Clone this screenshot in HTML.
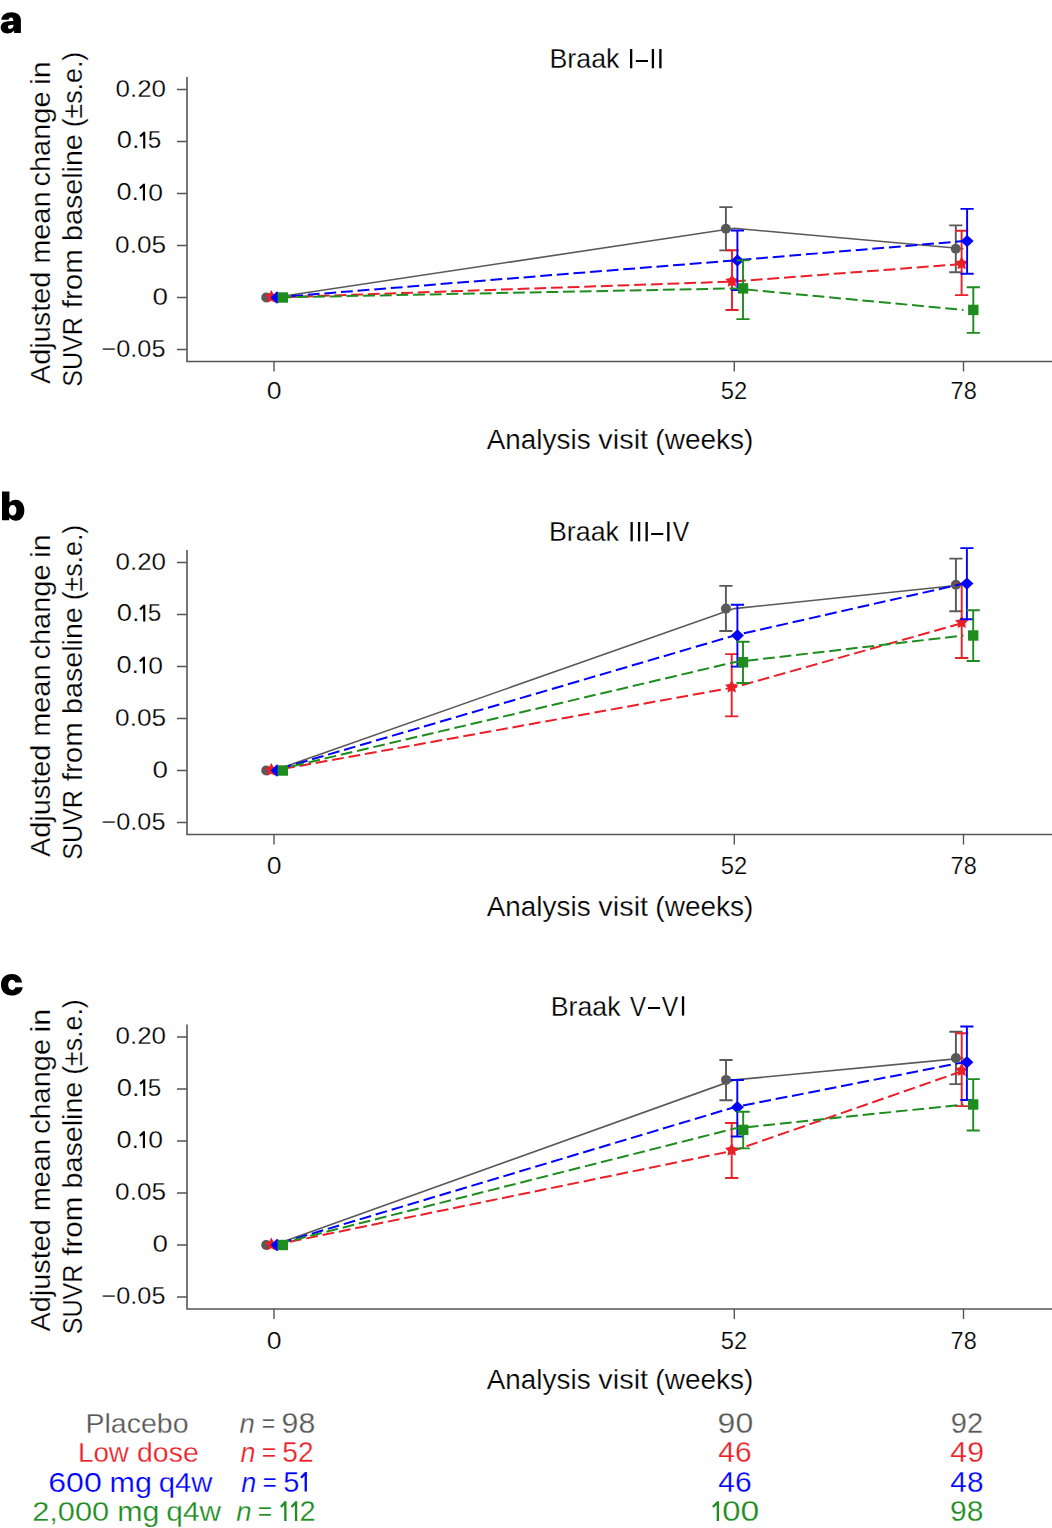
<!DOCTYPE html>
<html><head><meta charset="utf-8"><style>
html,body{margin:0;padding:0;background:#fff;}
svg{display:block;}
text{font-family:"Liberation Sans",sans-serif;}
</style></head><body>
<svg width="1052" height="1528" viewBox="0 0 1052 1528">
<rect width="1052" height="1528" fill="#fff"/>
<path d='M187,77 V361.45 H1052' fill='none' stroke='#555' stroke-width='1.6'/>
<path d='M177,89.5H187M177,141.5H187M177,193.5H187M177,245.5H187M177,297.5H187M177,349.5H187M274,361.45V371.5M734.3,361.45V371.5M963.5,361.45V371.5' fill='none' stroke='#555' stroke-width='1.4'/>
<path d='M187,550 V834.45 H1052' fill='none' stroke='#555' stroke-width='1.6'/>
<path d='M177,562.5H187M177,614.5H187M177,666.5H187M177,718.5H187M177,770.5H187M177,822.5H187M274,834.45V844.5M734.3,834.45V844.5M963.5,834.45V844.5' fill='none' stroke='#555' stroke-width='1.4'/>
<path d='M187,1024.5 V1308.95 H1052' fill='none' stroke='#555' stroke-width='1.6'/>
<path d='M177,1037.0H187M177,1089.0H187M177,1141.0H187M177,1193.0H187M177,1245.0H187M177,1297.0H187M274,1308.95V1319.0M734.3,1308.95V1319.0M963.5,1308.95V1319.0' fill='none' stroke='#555' stroke-width='1.4'/>
<path d='M274.0,297.5 L734.3,228.3 L963.5,248.8' fill='none' stroke='#595959' stroke-width='1.6'/>
<circle cx='266.2' cy='297.5' r='5' fill='#595959'/>
<circle cx='725.9' cy='228.8' r='5' fill='#595959'/>
<circle cx='955.8' cy='248.8' r='5' fill='#595959'/>
<path d='M725.9,207.1V250.4M719.3,207.1H732.5M719.3,250.4H732.5M955.8,225.4V272.3M949.1999999999999,225.4H962.4M949.1999999999999,272.3H962.4' fill='none' stroke='#595959' stroke-width='1.9'/>
<path d='M274.0,297.5 L734.3,281.5 L963.5,263.9' fill='none' stroke='#eb1f28' stroke-width='2' stroke-dasharray='11.84,4.82' stroke-dashoffset='6.10'/>
<path d='M271.30,290.10 L273.48,294.10 L277.96,294.94 L274.83,298.25 L275.41,302.76 L271.30,300.81 L267.19,302.76 L267.77,298.25 L264.64,294.94 L269.12,294.10Z' fill='#eb1f28'/>
<path d='M732.00,274.10 L734.18,278.10 L738.66,278.94 L735.53,282.25 L736.11,286.76 L732.00,284.81 L727.89,286.76 L728.47,282.25 L725.34,278.94 L729.82,278.10Z' fill='#eb1f28'/>
<path d='M961.60,256.50 L963.78,260.50 L968.26,261.34 L965.13,264.65 L965.71,269.16 L961.60,267.21 L957.49,269.16 L958.07,264.65 L954.94,261.34 L959.42,260.50Z' fill='#eb1f28'/>
<path d='M732.0,250.3V310.0M725.4,250.3H738.6M725.4,310.0H738.6M961.6,230.8V295.1M955.0,230.8H968.2M955.0,295.1H968.2' fill='none' stroke='#eb1f28' stroke-width='1.9'/>
<path d='M274.0,297.5 L734.3,260.4 L963.5,241.1' fill='none' stroke='#0000ff' stroke-width='2' stroke-dasharray='11.84,4.82' stroke-dashoffset='16.11'/>
<path d='M277.0,291.3L283.5,297.5L277.0,303.7L270.5,297.5Z' fill='#0000ff'/>
<path d='M737.4,254.2L743.9,260.4L737.4,266.59999999999997L730.9,260.4Z' fill='#0000ff'/>
<path d='M967.1,234.9L973.6,241.1L967.1,247.29999999999998L960.6,241.1Z' fill='#0000ff'/>
<path d='M737.4,230.5V290.0M730.8,230.5H744.0M730.8,290.0H744.0M967.1,208.9V273.8M960.5,208.9H973.7M960.5,273.8H973.7' fill='none' stroke='#0000ff' stroke-width='1.9'/>
<path d='M279.0,297.40 L734.3,288.4 L963.5,309.9' fill='none' stroke='#1e8c1e' stroke-width='2' stroke-dasharray='11.84,4.82' stroke-dashoffset='15.81'/>
<rect x='277.6' y='292.3' width='10.4' height='10.4' fill='#1e8c1e'/>
<rect x='737.8' y='283.2' width='10.4' height='10.4' fill='#1e8c1e'/>
<rect x='968.0999999999999' y='304.7' width='10.4' height='10.4' fill='#1e8c1e'/>
<path d='M743.0,260.4V319.1M736.4,260.4H749.6M736.4,319.1H749.6M973.3,287.3V332.9M966.6999999999999,287.3H979.9M966.6999999999999,332.9H979.9' fill='none' stroke='#1e8c1e' stroke-width='1.9'/>
<path d='M274.0,770.5 L734.3,608.6 L963.5,584.7' fill='none' stroke='#595959' stroke-width='1.6'/>
<circle cx='266.2' cy='770.5' r='5' fill='#595959'/>
<circle cx='725.9' cy='608.6' r='5' fill='#595959'/>
<circle cx='955.9' cy='584.7' r='5' fill='#595959'/>
<path d='M725.9,585.9V631.0M719.3,585.9H732.5M719.3,631.0H732.5M955.9,558.6V611.2M949.3,558.6H962.5M949.3,611.2H962.5' fill='none' stroke='#595959' stroke-width='1.9'/>
<path d='M274.0,770.5 L734.3,687.3 L963.5,622.8' fill='none' stroke='#eb1f28' stroke-width='2' stroke-dasharray='11.84,4.82' stroke-dashoffset='7.57'/>
<path d='M271.30,763.10 L273.48,767.10 L277.96,767.94 L274.83,771.25 L275.41,775.76 L271.30,773.81 L267.19,775.76 L267.77,771.25 L264.64,767.94 L269.12,767.10Z' fill='#eb1f28'/>
<path d='M731.70,679.90 L733.88,683.90 L738.36,684.74 L735.23,688.05 L735.81,692.56 L731.70,690.61 L727.59,692.56 L728.17,688.05 L725.04,684.74 L729.52,683.90Z' fill='#eb1f28'/>
<path d='M961.70,615.40 L963.88,619.40 L968.36,620.24 L965.23,623.55 L965.81,628.06 L961.70,626.11 L957.59,628.06 L958.17,623.55 L955.04,620.24 L959.52,619.40Z' fill='#eb1f28'/>
<path d='M731.7,654.1V716.4M725.1,654.1H738.3000000000001M725.1,716.4H738.3000000000001M961.7,584.1V658.0M955.1,584.1H968.3000000000001M955.1,658.0H968.3000000000001' fill='none' stroke='#eb1f28' stroke-width='1.9'/>
<path d='M274.0,770.5 L734.3,635.5 L963.5,583.6' fill='none' stroke='#0000ff' stroke-width='2' stroke-dasharray='11.84,4.82' stroke-dashoffset='10.30'/>
<path d='M277.0,764.3L283.5,770.5L277.0,776.7L270.5,770.5Z' fill='#0000ff'/>
<path d='M737.4,629.3L743.9,635.5L737.4,641.7L730.9,635.5Z' fill='#0000ff'/>
<path d='M966.9,577.4L973.4,583.6L966.9,589.8000000000001L960.4,583.6Z' fill='#0000ff'/>
<path d='M737.4,604.8V666.6M730.8,604.8H744.0M730.8,666.6H744.0M966.9,548.1V619.3M960.3,548.1H973.5M960.3,619.3H973.5' fill='none' stroke='#0000ff' stroke-width='1.9'/>
<path d='M279.0,769.32 L734.3,662.2 L963.5,635.5' fill='none' stroke='#1e8c1e' stroke-width='2' stroke-dasharray='11.84,4.82' stroke-dashoffset='3.12'/>
<rect x='277.6' y='765.3' width='10.4' height='10.4' fill='#1e8c1e'/>
<rect x='737.8' y='657.0' width='10.4' height='10.4' fill='#1e8c1e'/>
<rect x='968.0' y='630.3' width='10.4' height='10.4' fill='#1e8c1e'/>
<path d='M743.0,641.8V683.0M736.4,641.8H749.6M736.4,683.0H749.6M973.2,610.2V661.0M966.6,610.2H979.8000000000001M966.6,661.0H979.8000000000001' fill='none' stroke='#1e8c1e' stroke-width='1.9'/>
<path d='M274.0,1245.0 L734.3,1079.9 L963.5,1058.1' fill='none' stroke='#595959' stroke-width='1.6'/>
<circle cx='266.2' cy='1245.0' r='5' fill='#595959'/>
<circle cx='726.0' cy='1079.9' r='5' fill='#595959'/>
<circle cx='955.9' cy='1058.1' r='5' fill='#595959'/>
<path d='M726.0,1060.0V1100.2M719.4,1060.0H732.6M719.4,1100.2H732.6M955.9,1031.8V1084.1M949.3,1031.8H962.5M949.3,1084.1H962.5' fill='none' stroke='#595959' stroke-width='1.9'/>
<path d='M274.0,1245.0 L734.3,1150.5 L963.5,1070.7' fill='none' stroke='#eb1f28' stroke-width='2' stroke-dasharray='11.84,4.82' stroke-dashoffset='0.36'/>
<path d='M271.30,1237.60 L273.48,1241.60 L277.96,1242.44 L274.83,1245.75 L275.41,1250.26 L271.30,1248.31 L267.19,1250.26 L267.77,1245.75 L264.64,1242.44 L269.12,1241.60Z' fill='#eb1f28'/>
<path d='M731.70,1143.10 L733.88,1147.10 L738.36,1147.94 L735.23,1151.25 L735.81,1155.76 L731.70,1153.81 L727.59,1155.76 L728.17,1151.25 L725.04,1147.94 L729.52,1147.10Z' fill='#eb1f28'/>
<path d='M961.70,1063.30 L963.88,1067.30 L968.36,1068.14 L965.23,1071.45 L965.81,1075.96 L961.70,1074.01 L957.59,1075.96 L958.17,1071.45 L955.04,1068.14 L959.52,1067.30Z' fill='#eb1f28'/>
<path d='M731.7,1123.0V1178.0M725.1,1123.0H738.3000000000001M725.1,1178.0H738.3000000000001M961.7,1033.3V1106.1M955.1,1033.3H968.3000000000001M955.1,1106.1H968.3000000000001' fill='none' stroke='#eb1f28' stroke-width='1.9'/>
<path d='M274.0,1245.0 L734.3,1107.2 L963.5,1062.3' fill='none' stroke='#0000ff' stroke-width='2' stroke-dasharray='11.84,4.82' stroke-dashoffset='10.49'/>
<path d='M277.0,1238.8L283.5,1245.0L277.0,1251.2L270.5,1245.0Z' fill='#0000ff'/>
<path d='M737.3,1101.0L743.8,1107.2L737.3,1113.4L730.8,1107.2Z' fill='#0000ff'/>
<path d='M966.9,1056.1L973.4,1062.3L966.9,1068.5L960.4,1062.3Z' fill='#0000ff'/>
<path d='M737.3,1080.0V1136.5M730.6999999999999,1080.0H743.9M730.6999999999999,1136.5H743.9M966.9,1026.5V1100.0M960.3,1026.5H973.5M960.3,1100.0H973.5' fill='none' stroke='#0000ff' stroke-width='1.9'/>
<path d='M279.0,1243.74 L734.3,1128.6 L963.5,1104.5' fill='none' stroke='#1e8c1e' stroke-width='2' stroke-dasharray='11.84,4.82' stroke-dashoffset='1.04'/>
<rect x='277.6' y='1239.8' width='10.4' height='10.4' fill='#1e8c1e'/>
<rect x='738.0' y='1124.7' width='10.4' height='10.4' fill='#1e8c1e'/>
<rect x='968.0' y='1099.3' width='10.4' height='10.4' fill='#1e8c1e'/>
<path d='M743.2,1111.8V1148.4M736.6,1111.8H749.8000000000001M736.6,1148.4H749.8000000000001M973.2,1079.1V1130.5M966.6,1079.1H979.8000000000001M966.6,1130.5H979.8000000000001' fill='none' stroke='#1e8c1e' stroke-width='1.9'/>
<text transform='matrix(0.9408,0,0,1,549.45,68.30)' font-size='28.5' font-weight='normal' fill='#000' stroke='#fff' stroke-width='0.25'>Braak</text>
<text transform='matrix(0.9408,0,0,1,548.95,541.20)' font-size='28.5' font-weight='normal' fill='#000' stroke='#fff' stroke-width='0.25'>Braak</text>
<text transform='matrix(0.9366,0,0,1,550.76,1015.70)' font-size='28.5' font-weight='normal' fill='#000' stroke='#fff' stroke-width='0.25'>Braak</text>
<text transform='matrix(0.8649,0,0,0.9961,672.68,541.42)' font-size='28.5' font-weight='normal' fill='#000' stroke='#fff' stroke-width='0.25'>V</text>
<text transform='matrix(0.8432,0,0,0.9961,629.99,1015.72)' font-size='28.5' font-weight='normal' fill='#000' stroke='#fff' stroke-width='0.25'>V</text>
<text transform='matrix(0.8649,0,0,0.9961,661.68,1015.72)' font-size='28.5' font-weight='normal' fill='#000' stroke='#fff' stroke-width='0.25'>V</text>
<text transform='matrix(1.1009,0,0,1.0105,115.50,96.57)' font-size='23.6' font-weight='normal' fill='#000' stroke='#fff' stroke-width='0.25'>0.20</text>
<text transform='matrix(1.1603,0,0,1,116.84,148.40)' font-size='23.6' font-weight='normal' fill='#000' stroke='#fff' stroke-width='0.25'>0.</text>
<text transform='matrix(1.0299,0,0,1.0400,147.84,148.47)' font-size='23.6' font-weight='normal' fill='#000' stroke='#fff' stroke-width='0.25'>5</text>
<text transform='matrix(1.1542,0,0,1,116.45,200.40)' font-size='23.6' font-weight='normal' fill='#000' stroke='#fff' stroke-width='0.25'>0.</text>
<text transform='matrix(1.1236,0,0,1.0242,148.18,200.57)' font-size='23.6' font-weight='normal' fill='#000' stroke='#fff' stroke-width='0.25'>0</text>
<text transform='matrix(1.1123,0,0,1.0121,115.09,252.77)' font-size='23.6' font-weight='normal' fill='#000' stroke='#fff' stroke-width='0.25'>0.05</text>
<text transform='matrix(1.1775,0,0,1.0121,152.62,304.77)' font-size='23.6' font-weight='normal' fill='#000' stroke='#fff' stroke-width='0.25'>0</text>
<text transform='matrix(1.0702,0,0,1,101.56,356.60)' font-size='23.6' font-weight='normal' fill='#000' stroke='#fff' stroke-width='0.25'>−0.05</text>
<text transform='matrix(1.1281,0,0,0.9758,266.72,398.78)' font-size='23.6' font-weight='normal' fill='#000' stroke='#fff' stroke-width='0.25'>0</text>
<text transform='matrix(1.0105,0,0,0.9805,720.66,398.78)' font-size='23.6' font-weight='normal' fill='#000' stroke='#fff' stroke-width='0.25'>52</text>
<text transform='matrix(0.9979,0,0,0.9939,950.53,398.88)' font-size='23.6' font-weight='normal' fill='#000' stroke='#fff' stroke-width='0.25'>78</text>
<text transform='matrix(0.9785,0,0,1,486.76,448.50)' font-size='28.5' font-weight='normal' fill='#000' stroke='#fff' stroke-width='0.25'>Analysis</text>
<text transform='matrix(1.0144,0,0,1,598.35,448.50)' font-size='28.5' font-weight='normal' fill='#000' stroke='#fff' stroke-width='0.25'>visit</text>
<text transform='matrix(0.9823,0,0,1,655.36,448.50)' font-size='28.5' font-weight='normal' fill='#000' stroke='#fff' stroke-width='0.25'>(weeks)</text>
<text transform='matrix(0,-1.0145,1,0,49.70,384.05)' font-size='28.5' font-weight='normal' fill='#000' stroke='#fff' stroke-width='0.25'>Adjusted</text>
<text transform='matrix(0,-1.0156,1,0,49.70,263.83)' font-size='28.5' font-weight='normal' fill='#000' stroke='#fff' stroke-width='0.25'>mean</text>
<text transform='matrix(0,-1.0182,1,0,49.70,186.60)' font-size='28.5' font-weight='normal' fill='#000' stroke='#fff' stroke-width='0.25'>change</text>
<text transform='matrix(0,-1.0685,1,0,49.70,84.94)' font-size='28.5' font-weight='normal' fill='#000' stroke='#fff' stroke-width='0.25'>in</text>
<text transform='matrix(0,-0.8814,1,0,82.00,386.82)' font-size='28.5' font-weight='normal' fill='#000' stroke='#fff' stroke-width='0.25'>SUVR</text>
<text transform='matrix(0,-1.0385,1,0,82.00,308.32)' font-size='28.5' font-weight='normal' fill='#000' stroke='#fff' stroke-width='0.25'>from</text>
<text transform='matrix(0,-1.0054,1,0,82.00,240.91)' font-size='28.5' font-weight='normal' fill='#000' stroke='#fff' stroke-width='0.25'>baseline</text>
<text transform='matrix(0,-0.9394,1,0,82.00,127.36)' font-size='28.5' font-weight='normal' fill='#000' stroke='#fff' stroke-width='0.25'>(±s.e.)</text>
<text transform='matrix(1.1009,0,0,1.0105,115.50,569.57)' font-size='23.6' font-weight='normal' fill='#000' stroke='#fff' stroke-width='0.25'>0.20</text>
<text transform='matrix(1.1603,0,0,1,116.84,621.40)' font-size='23.6' font-weight='normal' fill='#000' stroke='#fff' stroke-width='0.25'>0.</text>
<text transform='matrix(1.0299,0,0,1.0400,147.84,621.47)' font-size='23.6' font-weight='normal' fill='#000' stroke='#fff' stroke-width='0.25'>5</text>
<text transform='matrix(1.1542,0,0,1,116.45,673.40)' font-size='23.6' font-weight='normal' fill='#000' stroke='#fff' stroke-width='0.25'>0.</text>
<text transform='matrix(1.1236,0,0,1.0242,148.18,673.57)' font-size='23.6' font-weight='normal' fill='#000' stroke='#fff' stroke-width='0.25'>0</text>
<text transform='matrix(1.1123,0,0,1.0121,115.09,725.77)' font-size='23.6' font-weight='normal' fill='#000' stroke='#fff' stroke-width='0.25'>0.05</text>
<text transform='matrix(1.1775,0,0,1.0121,152.62,777.77)' font-size='23.6' font-weight='normal' fill='#000' stroke='#fff' stroke-width='0.25'>0</text>
<text transform='matrix(1.0702,0,0,1,101.56,829.60)' font-size='23.6' font-weight='normal' fill='#000' stroke='#fff' stroke-width='0.25'>−0.05</text>
<text transform='matrix(1.1281,0,0,0.9758,266.72,874.28)' font-size='23.6' font-weight='normal' fill='#000' stroke='#fff' stroke-width='0.25'>0</text>
<text transform='matrix(1.0105,0,0,0.9805,720.66,874.28)' font-size='23.6' font-weight='normal' fill='#000' stroke='#fff' stroke-width='0.25'>52</text>
<text transform='matrix(0.9979,0,0,0.9939,950.53,874.38)' font-size='23.6' font-weight='normal' fill='#000' stroke='#fff' stroke-width='0.25'>78</text>
<text transform='matrix(0.9785,0,0,1,486.76,915.80)' font-size='28.5' font-weight='normal' fill='#000' stroke='#fff' stroke-width='0.25'>Analysis</text>
<text transform='matrix(1.0144,0,0,1,598.35,915.80)' font-size='28.5' font-weight='normal' fill='#000' stroke='#fff' stroke-width='0.25'>visit</text>
<text transform='matrix(0.9823,0,0,1,655.36,915.80)' font-size='28.5' font-weight='normal' fill='#000' stroke='#fff' stroke-width='0.25'>(weeks)</text>
<text transform='matrix(0,-1.0145,1,0,49.70,857.05)' font-size='28.5' font-weight='normal' fill='#000' stroke='#fff' stroke-width='0.25'>Adjusted</text>
<text transform='matrix(0,-1.0156,1,0,49.70,736.83)' font-size='28.5' font-weight='normal' fill='#000' stroke='#fff' stroke-width='0.25'>mean</text>
<text transform='matrix(0,-1.0182,1,0,49.70,659.60)' font-size='28.5' font-weight='normal' fill='#000' stroke='#fff' stroke-width='0.25'>change</text>
<text transform='matrix(0,-1.0685,1,0,49.70,557.94)' font-size='28.5' font-weight='normal' fill='#000' stroke='#fff' stroke-width='0.25'>in</text>
<text transform='matrix(0,-0.8814,1,0,82.00,859.82)' font-size='28.5' font-weight='normal' fill='#000' stroke='#fff' stroke-width='0.25'>SUVR</text>
<text transform='matrix(0,-1.0385,1,0,82.00,781.32)' font-size='28.5' font-weight='normal' fill='#000' stroke='#fff' stroke-width='0.25'>from</text>
<text transform='matrix(0,-1.0054,1,0,82.00,713.91)' font-size='28.5' font-weight='normal' fill='#000' stroke='#fff' stroke-width='0.25'>baseline</text>
<text transform='matrix(0,-0.9394,1,0,82.00,600.36)' font-size='28.5' font-weight='normal' fill='#000' stroke='#fff' stroke-width='0.25'>(±s.e.)</text>
<text transform='matrix(1.1009,0,0,1.0105,115.50,1044.07)' font-size='23.6' font-weight='normal' fill='#000' stroke='#fff' stroke-width='0.25'>0.20</text>
<text transform='matrix(1.1603,0,0,1,116.84,1095.90)' font-size='23.6' font-weight='normal' fill='#000' stroke='#fff' stroke-width='0.25'>0.</text>
<text transform='matrix(1.0299,0,0,1.0400,147.84,1095.97)' font-size='23.6' font-weight='normal' fill='#000' stroke='#fff' stroke-width='0.25'>5</text>
<text transform='matrix(1.1542,0,0,1,116.45,1147.90)' font-size='23.6' font-weight='normal' fill='#000' stroke='#fff' stroke-width='0.25'>0.</text>
<text transform='matrix(1.1236,0,0,1.0242,148.18,1148.07)' font-size='23.6' font-weight='normal' fill='#000' stroke='#fff' stroke-width='0.25'>0</text>
<text transform='matrix(1.1123,0,0,1.0121,115.09,1200.27)' font-size='23.6' font-weight='normal' fill='#000' stroke='#fff' stroke-width='0.25'>0.05</text>
<text transform='matrix(1.1775,0,0,1.0121,152.62,1252.27)' font-size='23.6' font-weight='normal' fill='#000' stroke='#fff' stroke-width='0.25'>0</text>
<text transform='matrix(1.0702,0,0,1,101.56,1304.10)' font-size='23.6' font-weight='normal' fill='#000' stroke='#fff' stroke-width='0.25'>−0.05</text>
<text transform='matrix(1.1281,0,0,0.9758,266.72,1349.28)' font-size='23.6' font-weight='normal' fill='#000' stroke='#fff' stroke-width='0.25'>0</text>
<text transform='matrix(1.0105,0,0,0.9805,720.66,1349.28)' font-size='23.6' font-weight='normal' fill='#000' stroke='#fff' stroke-width='0.25'>52</text>
<text transform='matrix(0.9979,0,0,0.9939,950.53,1349.38)' font-size='23.6' font-weight='normal' fill='#000' stroke='#fff' stroke-width='0.25'>78</text>
<text transform='matrix(0.9785,0,0,1,486.76,1388.70)' font-size='28.5' font-weight='normal' fill='#000' stroke='#fff' stroke-width='0.25'>Analysis</text>
<text transform='matrix(1.0144,0,0,1,598.35,1388.70)' font-size='28.5' font-weight='normal' fill='#000' stroke='#fff' stroke-width='0.25'>visit</text>
<text transform='matrix(0.9823,0,0,1,655.36,1388.70)' font-size='28.5' font-weight='normal' fill='#000' stroke='#fff' stroke-width='0.25'>(weeks)</text>
<text transform='matrix(0,-1.0145,1,0,49.70,1331.55)' font-size='28.5' font-weight='normal' fill='#000' stroke='#fff' stroke-width='0.25'>Adjusted</text>
<text transform='matrix(0,-1.0156,1,0,49.70,1211.33)' font-size='28.5' font-weight='normal' fill='#000' stroke='#fff' stroke-width='0.25'>mean</text>
<text transform='matrix(0,-1.0182,1,0,49.70,1134.10)' font-size='28.5' font-weight='normal' fill='#000' stroke='#fff' stroke-width='0.25'>change</text>
<text transform='matrix(0,-1.0685,1,0,49.70,1032.44)' font-size='28.5' font-weight='normal' fill='#000' stroke='#fff' stroke-width='0.25'>in</text>
<text transform='matrix(0,-0.8814,1,0,82.00,1334.32)' font-size='28.5' font-weight='normal' fill='#000' stroke='#fff' stroke-width='0.25'>SUVR</text>
<text transform='matrix(0,-1.0385,1,0,82.00,1255.82)' font-size='28.5' font-weight='normal' fill='#000' stroke='#fff' stroke-width='0.25'>from</text>
<text transform='matrix(0,-1.0054,1,0,82.00,1188.41)' font-size='28.5' font-weight='normal' fill='#000' stroke='#fff' stroke-width='0.25'>baseline</text>
<text transform='matrix(0,-0.9394,1,0,82.00,1074.86)' font-size='28.5' font-weight='normal' fill='#000' stroke='#fff' stroke-width='0.25'>(±s.e.)</text>
<text transform='matrix(1.0008,0,0,1,85.50,1432.90)' font-size='28.5' font-weight='normal' fill='#595959' stroke='#fff' stroke-width='0.25'>Placebo</text>
<text transform='matrix(0.9673,0,0,1,239.60,1432.90)' font-size='28.5' font-weight='normal' fill='#595959' stroke='#fff' stroke-width='0.25'><tspan font-style='italic'>n</tspan></text>
<text transform='matrix(0.8073,0,0,1,261.79,1432.90)' font-size='28.5' font-weight='normal' fill='#595959' stroke='#fff' stroke-width='0.25'>=</text>
<text transform='matrix(1.0632,0,0,1.0100,281.61,1433.17)' font-size='28.5' font-weight='normal' fill='#595959' stroke='#fff' stroke-width='0.25'>98</text>
<text transform='matrix(1.1241,0,0,1.0075,717.61,1433.07)' font-size='28.5' font-weight='normal' fill='#595959' stroke='#fff' stroke-width='0.25'>90</text>
<text transform='matrix(1.0201,0,0,1.0100,950.77,1433.07)' font-size='28.5' font-weight='normal' fill='#595959' stroke='#fff' stroke-width='0.25'>92</text>
<text transform='matrix(0.9749,0,0,1,77.96,1462.20)' font-size='28.5' font-weight='normal' fill='#eb1f28' stroke='#fff' stroke-width='0.25'>Low</text>
<text transform='matrix(0.9983,0,0,1,137.03,1462.20)' font-size='28.5' font-weight='normal' fill='#eb1f28' stroke='#fff' stroke-width='0.25'>dose</text>
<text transform='matrix(0.9455,0,0,1,240.41,1462.20)' font-size='28.5' font-weight='normal' fill='#eb1f28' stroke='#fff' stroke-width='0.25'><tspan font-style='italic'>n</tspan></text>
<text transform='matrix(0.8734,0,0,1,261.69,1462.20)' font-size='28.5' font-weight='normal' fill='#eb1f28' stroke='#fff' stroke-width='0.25'>=</text>
<text transform='matrix(0.9870,0,0,1.0164,282.27,1462.47)' font-size='28.5' font-weight='normal' fill='#eb1f28' stroke='#fff' stroke-width='0.25'>52</text>
<text transform='matrix(1.0532,0,0,1.0100,718.31,1462.47)' font-size='28.5' font-weight='normal' fill='#eb1f28' stroke='#fff' stroke-width='0.25'>46</text>
<text transform='matrix(1.0644,0,0,1.0100,950.30,1462.47)' font-size='28.5' font-weight='normal' fill='#eb1f28' stroke='#fff' stroke-width='0.25'>49</text>
<text transform='matrix(1.1272,0,0,1,48.17,1491.50)' font-size='28.5' font-weight='normal' fill='#0000ff' stroke='#fff' stroke-width='0.25'>600</text>
<text transform='matrix(1.0695,0,0,1,109.56,1491.50)' font-size='28.5' font-weight='normal' fill='#0000ff' stroke='#fff' stroke-width='0.25'>mg</text>
<text transform='matrix(1.0280,0,0,1,158.79,1491.50)' font-size='28.5' font-weight='normal' fill='#0000ff' stroke='#fff' stroke-width='0.25'>q4w</text>
<text transform='matrix(0.9455,0,0,1,241.31,1491.50)' font-size='28.5' font-weight='normal' fill='#0000ff' stroke='#fff' stroke-width='0.25'><tspan font-style='italic'>n</tspan></text>
<text transform='matrix(0.8367,0,0,1,262.74,1491.50)' font-size='28.5' font-weight='normal' fill='#0000ff' stroke='#fff' stroke-width='0.25'>=</text>
<text transform='matrix(1.0189,0,0,1.0140,283.33,1491.87)' font-size='28.5' font-weight='normal' fill='#0000ff' stroke='#fff' stroke-width='0.25'>5</text>
<text transform='matrix(1.0532,0,0,1.0100,718.31,1491.87)' font-size='28.5' font-weight='normal' fill='#0000ff' stroke='#fff' stroke-width='0.25'>46</text>
<text transform='matrix(1.0464,0,0,1.0100,950.32,1491.87)' font-size='28.5' font-weight='normal' fill='#0000ff' stroke='#fff' stroke-width='0.25'>48</text>
<text transform='matrix(1.0798,0,0,1,32.18,1520.80)' font-size='28.5' font-weight='normal' fill='#1e8c1e' stroke='#fff' stroke-width='0.25'>2,000</text>
<text transform='matrix(1.0667,0,0,1,117.27,1520.80)' font-size='28.5' font-weight='normal' fill='#1e8c1e' stroke='#fff' stroke-width='0.25'>mg</text>
<text transform='matrix(1.0477,0,0,1,166.36,1520.80)' font-size='28.5' font-weight='normal' fill='#1e8c1e' stroke='#fff' stroke-width='0.25'>q4w</text>
<text transform='matrix(0.9673,0,0,1,236.30,1520.80)' font-size='28.5' font-weight='normal' fill='#1e8c1e' stroke='#fff' stroke-width='0.25'><tspan font-style='italic'>n</tspan></text>
<text transform='matrix(0.8661,0,0,1,257.70,1520.80)' font-size='28.5' font-weight='normal' fill='#1e8c1e' stroke='#fff' stroke-width='0.25'>=</text>
<text transform='matrix(1.0196,0,0,1.0089,299.57,1521.13)' font-size='28.5' font-weight='normal' fill='#1e8c1e' stroke='#fff' stroke-width='0.25'>2</text>
<text transform='matrix(1.1514,0,0,1.0050,722.36,1521.17)' font-size='28.5' font-weight='normal' fill='#1e8c1e' stroke='#fff' stroke-width='0.25'>0</text>
<text transform='matrix(1.1813,0,0,1.0050,740.52,1521.17)' font-size='28.5' font-weight='normal' fill='#1e8c1e' stroke='#fff' stroke-width='0.25'>0</text>
<text transform='matrix(1.0528,0,0,1.0050,950.12,1521.17)' font-size='28.5' font-weight='normal' fill='#1e8c1e' stroke='#fff' stroke-width='0.25'>98</text>
<path fill='#000' fill-rule='evenodd' d='M1.25,19.8C1.9,15.2 5.6,12.3 11.2,12.3C17.3,12.3 20.9,15.2 20.9,19.9L20.9,32.9L14.1,32.9L13.9,30.6C12.6,32.5 10.3,33.5 7.4,33.5C3.3,33.5 0.7,31.0 0.7,27.6C0.7,23.4 3.9,21.5 8.0,21.2L13.35,20.9C13.35,18.6 12.6,17.5 11.0,17.5C9.7,17.5 8.9,18.3 8.7,19.8Z M13.5,24.8L10.3,24.9C8.9,25.0 7.9,25.7 7.9,26.9C7.9,28.1 8.9,28.9 10.1,28.9C12.2,28.9 13.5,27.4 13.5,25.6Z'/>
<path fill='#000' fill-rule='evenodd' d='M2.0,491.6L9.45,491.6L9.45,502.6C10.9,500.8 13.0,499.7 15.8,499.7C21.0,499.7 24.35,504.2 24.35,510.2C24.35,516.2 21.0,520.7 15.9,520.7C13.0,520.7 10.8,519.5 9.3,517.6L9.2,520.3L2.0,520.3Z M12.6,505.0C10.3,505.0 8.9,507.2 8.9,510.2C8.9,513.3 10.3,515.5 12.6,515.5C15.0,515.5 16.4,513.3 16.4,510.2C16.4,507.2 15.0,505.0 12.6,505.0Z'/>
<path fill='#000' d='M22.05,982.5C21.2,977.1 17.3,974.1 11.8,974.1C5.0,974.1 0.95,978.6 0.95,984.8C0.95,991.1 5.0,995.6 11.8,995.6C17.6,995.6 21.9,992.4 22.8,987.2L15.3,987.2C14.8,989.0 13.7,990.0 12.2,990.0C9.7,990.0 8.2,987.9 8.2,984.8C8.2,981.8 9.7,979.7 12.2,979.7C13.6,979.7 14.8,980.7 15.2,982.5Z'/>
<rect x='630.00' y='49.00' width='2.3' height='19.30' fill='#000'/>
<rect x='635.80' y='60.00' width='12.20' height='2.0' fill='#000'/>
<rect x='651.75' y='49.00' width='2.3' height='19.30' fill='#000'/>
<rect x='659.25' y='49.00' width='2.3' height='19.30' fill='#000'/>
<rect x='630.50' y='522.00' width='2.3' height='19.30' fill='#000'/>
<rect x='637.95' y='522.00' width='2.3' height='19.30' fill='#000'/>
<rect x='645.50' y='522.00' width='2.3' height='19.30' fill='#000'/>
<rect x='651.10' y='533.00' width='12.20' height='2.0' fill='#000'/>
<rect x='667.20' y='522.00' width='2.3' height='19.30' fill='#000'/>
<rect x='648.00' y='1007.00' width='12.00' height='2.0' fill='#000'/>
<rect x='681.90' y='996.30' width='2.3' height='19.30' fill='#000'/>
<path d='M144.23,131.70V148.40M140.07,136.54L144.23,132.45' stroke='#000' stroke-width='2.15' fill='none'/>
<path d='M143.93,183.80V200.40M139.87,188.61L143.93,184.55' stroke='#000' stroke-width='2.15' fill='none'/>
<path d='M144.23,604.70V621.40M140.07,609.54L144.23,605.45' stroke='#000' stroke-width='2.15' fill='none'/>
<path d='M143.93,656.80V673.40M139.87,661.61L143.93,657.55' stroke='#000' stroke-width='2.15' fill='none'/>
<path d='M144.23,1079.20V1095.90M140.07,1084.04L144.23,1079.95' stroke='#000' stroke-width='2.15' fill='none'/>
<path d='M143.93,1131.30V1147.90M139.87,1136.11L143.93,1132.05' stroke='#000' stroke-width='2.15' fill='none'/>
<path d='M305.75,1472.10V1491.60M301.04,1477.75L305.75,1472.90' stroke='#0000ff' stroke-width='2.3' fill='none'/>
<path d='M285.35,1501.30V1520.90M280.94,1506.98L285.35,1502.11' stroke='#1e8c1e' stroke-width='2.3' fill='none'/>
<path d='M296.05,1501.30V1520.90M291.44,1506.98L296.05,1502.11' stroke='#1e8c1e' stroke-width='2.3' fill='none'/>
<path d='M717.85,1501.30V1520.90M712.83,1506.98L717.85,1502.11' stroke='#1e8c1e' stroke-width='2.3' fill='none'/>
</svg></body></html>
